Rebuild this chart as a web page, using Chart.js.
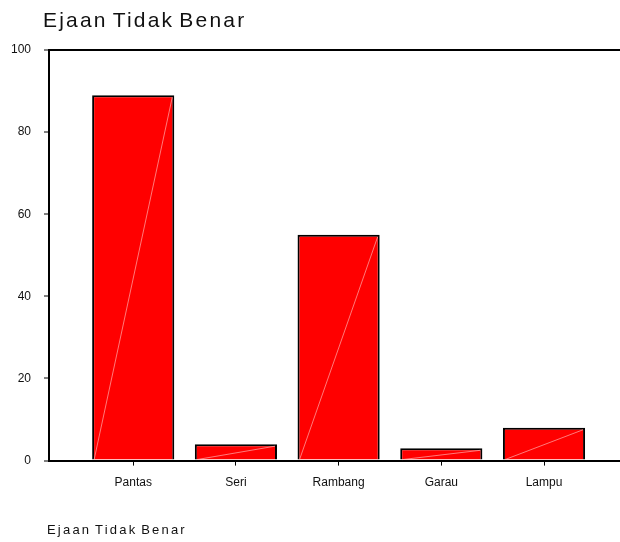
<!DOCTYPE html>
<html>
<head>
<meta charset="utf-8">
<script src="https://cdn.jsdelivr.net/npm/chart.js@4.4.0/dist/chart.umd.min.js"></script>
<style>
  html, body { margin: 0; padding: 0; background: #fff; }
</style>
</head>
<body>
<canvas id="chartCanvas" width="620" height="542"></canvas>
<script>
// DATA
const chartTitle = 'Ejaan Tidak Benar';
const categories = ['Pantas', 'Seri', 'Rambang', 'Garau', 'Lampu'];
const values = [89, 4, 55, 3, 8];
const yTicks = [0, 20, 40, 60, 80, 100];

const FONT = '"Liberation Sans", Arial, sans-serif';

// title + caption drawn with a bit of letter spacing like the original
const textPlugin = {
  id: 'textPlugin',
  afterDraw(chart) {
    const ctx = chart.ctx;
    ctx.save();
    ctx.fillStyle = '#111';
    ctx.textBaseline = 'alphabetic';
    ctx.textAlign = 'left';
    ctx.letterSpacing = '2.2px';
    ctx.wordSpacing = '-3px';
    ctx.font = '21px ' + FONT;
    ctx.fillText(chartTitle, 43, 27);
    ctx.letterSpacing = '2.2px';
    ctx.wordSpacing = '-2px';
    ctx.font = '13px ' + FONT;
    ctx.fillText(chartTitle, 47, 534);
    ctx.restore();
  }
};

// faint diagonal across each bar
const diagPlugin = {
  id: 'diagPlugin',
  afterDatasetsDraw(chart) {
    const ctx = chart.ctx;
    ctx.save();
    ctx.strokeStyle = 'rgba(255,190,190,0.8)';
    ctx.lineWidth = 0.8;
    chart.getDatasetMeta(0).data.forEach(bar => {
      const w = bar.width / 2;
      ctx.beginPath();
      ctx.moveTo(bar.x - w + 2, bar.base);
      ctx.lineTo(bar.x + w - 2, bar.y + 2);
      ctx.stroke();
    });
    ctx.restore();
  }
};

const dataConst = {
  datasets: [{
    label: chartTitle,
    data: values.map((v, i) => ({ x: i, y: v })),
    backgroundColor: '#ff0000',
    borderColor: '#000',
    borderWidth: 2,
    borderSkipped: 'bottom',
    barPercentage: 0.8,
    categoryPercentage: 1
  }]
};

const config = {
  type: 'bar',
  data: dataConst,
  plugins: [textPlugin, diagPlugin],
  options: {
    responsive: false,
    animation: false,
    devicePixelRatio: 1,
    layout: { padding: { top: 50, right: 0, bottom: 42, left: 0 } },
    plugins: {
      legend: { display: false },
      title: { display: false },
      tooltip: { enabled: false }
    },
    scales: {
      x: {
        type: 'linear',
        offset: false,
        min: -0.82,
        max: 4.74,
        afterBuildTicks: scale => {
          scale.ticks = categories.map((c, i) => ({ value: i }));
        },
        ticks: {
          autoSkip: false,
          maxRotation: 0,
          padding: 10,
          color: '#111',
          font: { family: FONT, size: 12 },
          callback: v => categories[v]
        },
        grid: {
          offset: false,
          drawOnChartArea: false,
          tickLength: 5,
          tickColor: '#000',
          tickWidth: 1
        },
        border: { display: true, color: '#000', width: 2 }
      },
      y: {
        min: 0,
        max: 100,
        afterBuildTicks: scale => {
          scale.ticks = yTicks.map(v => ({ value: v }));
        },
        afterFit: scale => { scale.width = 49; },
        ticks: {
          padding: 13,
          color: '#111',
          font: { family: FONT, size: 12 }
        },
        grid: {
          color: c => (c.tick && c.tick.value === 100 ? '#000' : 'rgba(0,0,0,0)'),
          lineWidth: 2,
          tickLength: 5,
          tickColor: '#000',
          tickWidth: 1
        },
        border: { display: true, color: '#000', width: 2 }
      }
    }
  }
};

new Chart(document.getElementById('chartCanvas'), config);
</script>
</body>
</html>
